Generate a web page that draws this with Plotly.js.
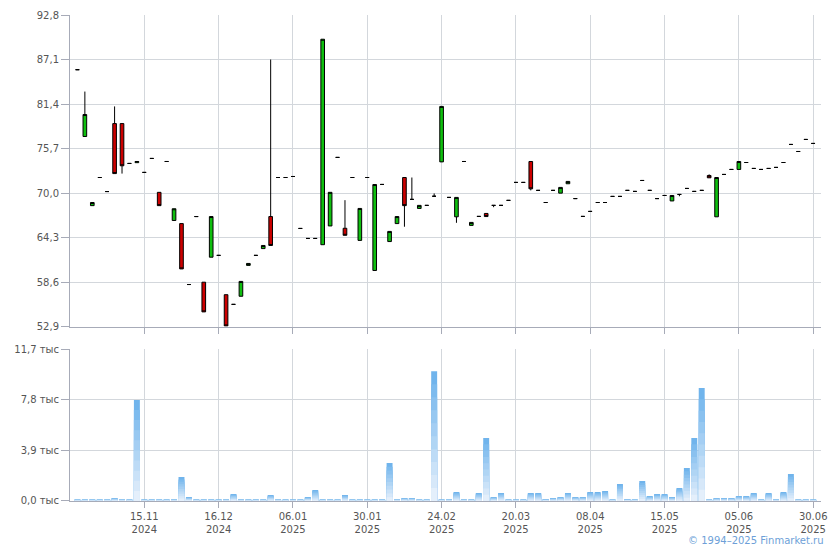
<!DOCTYPE html>
<html>
<head>
<meta charset="utf-8">
<script src="https://cdn.plot.ly/plotly-3.0.1.min.js"></script>
<style>
html,body{margin:0;padding:0;background:#ffffff;}
#chart{width:840px;height:550px;}
</style>
</head>
<body>
<div id="chart"></div>
<script>
// ---- Data ----
const openP = [85.8, 77.25, 68.4, 72.0, 70.2, 78.9, 78.9, 73.8, 73.9, 72.65,
  74.44, 70.1, 74.05, 66.5, 66.1, 58.3, 67.0, 58.6, 61.8, 62.03,
  57.0, 55.76, 56.8, 60.75, 62.03, 62.9, 67.0, 72.0, 72.0, 72.13,
  65.48, 64.2, 64.2, 63.4, 65.8, 74.57, 65.5, 72.0, 63.95, 72.0,
  60.1, 71.11, 63.8, 66.1, 72.0, 69.2, 68.04, 68.43, 69.6, 74.0,
  69.45, 66.97, 74.05, 65.87, 67.02, 67.4, 68.43, 68.43, 69.07, 71.37,
  71.37, 74.05, 70.35, 68.8, 70.35, 70.0, 71.2, 69.3, 67.02, 67.66,
  68.8, 68.8, 69.58, 69.58, 70.35, 70.22, 71.62, 70.35, 69.3, 69.7,
  69.0, 69.83, 70.6, 70.22, 70.35, 72.26, 66.97, 72.39, 73.03, 73.03,
  73.92, 73.16, 73.03, 73.16, 73.29, 73.92, 76.23, 75.33, 76.87, 76.36];
const highP = [85.8, 83.0, 68.8, 72.0, 70.2, 81.1, 78.9, 73.8, 74.05, 72.65,
  74.44, 70.1, 74.05, 68.0, 66.1, 58.3, 67.0, 58.6, 67.0, 62.03,
  57.0, 55.76, 58.7, 61.0, 62.03, 63.3, 87.1, 72.0, 72.0, 72.13,
  65.48, 64.2, 64.2, 89.7, 70.1, 74.57, 69.1, 72.0, 68.04, 72.0,
  71.1, 71.11, 65.1, 67.0, 72.0, 72.0, 68.43, 68.43, 69.96, 81.1,
  69.45, 69.45, 74.05, 66.25, 67.02, 67.4, 68.43, 68.43, 69.07, 71.37,
  71.37, 74.05, 70.35, 68.8, 70.35, 70.73, 71.5, 69.3, 67.02, 67.66,
  68.8, 68.8, 69.58, 69.58, 70.35, 70.22, 71.62, 70.35, 69.3, 69.7,
  69.7, 69.83, 70.6, 70.22, 70.35, 72.4, 72.0, 72.39, 73.03, 74.05,
  73.92, 73.16, 73.03, 73.16, 73.29, 73.92, 76.23, 75.33, 76.87, 76.36];
const lowP = [85.8, 77.25, 68.4, 72.0, 70.2, 72.5, 72.5, 73.8, 73.9, 72.65,
  74.44, 68.4, 74.05, 66.5, 60.3, 58.3, 67.0, 54.8, 61.8, 62.03,
  53.0, 55.76, 56.8, 60.75, 62.03, 62.9, 63.3, 72.0, 72.0, 72.13,
  65.48, 64.2, 64.2, 63.4, 65.8, 74.57, 64.6, 72.0, 63.95, 72.0,
  60.1, 71.11, 63.8, 66.1, 65.7, 69.2, 68.04, 68.43, 69.6, 74.0,
  69.45, 66.2, 74.05, 65.87, 67.02, 67.0, 68.2, 68.43, 69.07, 71.37,
  71.37, 70.35, 70.35, 68.8, 70.35, 70.0, 71.2, 69.3, 67.02, 67.66,
  68.8, 68.8, 69.58, 69.58, 70.35, 70.22, 71.62, 70.35, 69.3, 69.7,
  69.0, 69.6, 70.6, 70.22, 70.35, 71.96, 66.97, 72.39, 73.03, 73.03,
  73.92, 73.16, 73.03, 73.16, 73.29, 73.92, 76.23, 75.33, 76.87, 76.36];
const closeP = [85.8, 80.06, 68.8, 72.0, 70.2, 72.5, 73.5, 73.8, 74.05, 72.65,
  74.44, 68.4, 74.05, 68.0, 60.3, 58.3, 67.0, 54.8, 67.0, 62.03,
  53.0, 55.76, 58.7, 61.0, 62.03, 63.3, 63.3, 72.0, 72.0, 72.13,
  65.48, 64.2, 64.2, 89.7, 70.1, 74.57, 64.6, 72.0, 68.04, 72.0,
  71.1, 71.11, 65.1, 67.0, 68.4, 69.2, 68.43, 68.43, 69.6, 81.1,
  69.45, 69.45, 74.05, 66.25, 67.02, 67.0, 68.43, 68.43, 69.07, 71.37,
  71.37, 70.55, 70.35, 68.8, 70.35, 70.73, 71.5, 69.3, 67.02, 67.66,
  68.8, 68.8, 69.58, 69.58, 70.35, 70.22, 71.62, 70.35, 69.3, 69.7,
  69.7, 69.83, 70.6, 70.22, 70.35, 71.96, 72.0, 72.39, 73.03, 74.05,
  73.92, 73.16, 73.03, 73.16, 73.29, 73.92, 76.23, 75.33, 76.87, 76.36];
// volume, thousands
const volumeK = [0.12, 0.12, 0.12, 0.12, 0.12, 0.23, 0.12, 0.12, 7.8, 0.12,
  0.12, 0.12, 0.12, 0.12, 1.85, 0.3, 0.12, 0.12, 0.12, 0.12,
  0.12, 0.54, 0.12, 0.12, 0.12, 0.12, 0.46, 0.12, 0.12, 0.12,
  0.12, 0.3, 0.85, 0.12, 0.12, 0.12, 0.46, 0.12, 0.12, 0.12,
  0.12, 0.12, 2.93, 0.12, 0.23, 0.23, 0.12, 0.12, 10.0, 0.12,
  0.12, 0.69, 0.12, 0.12, 0.62, 4.86, 0.31, 0.62, 0.12, 0.12,
  0.12, 0.62, 0.62, 0.15, 0.23, 0.31, 0.62, 0.31, 0.31, 0.69,
  0.69, 0.77, 0.12, 1.31, 0.15, 0.12, 1.54, 0.39, 0.54, 0.54,
  0.31, 1.0, 2.54, 4.86, 8.71, 0.12, 0.23, 0.23, 0.23, 0.39,
  0.39, 0.62, 0.12, 0.62, 0.12, 0.69, 2.08, 0.12, 0.12, 0.12];

const xTickIdx = [9, 19, 29, 39, 49, 59, 69, 79, 89, 99];
const xTickText = ['15.11<br>2024', '16.12<br>2024', '06.01<br>2025', '30.01<br>2025', '24.02<br>2025',
  '20.03<br>2025', '08.04<br>2025', '15.05<br>2025', '05.06<br>2025', '30.06<br>2025'];
const priceTicks = [52.9, 58.6, 64.3, 70.0, 75.7, 81.4, 87.1, 92.8];
const priceTickText = ['52,9', '58,6', '64,3', '70,0', '75,7', '81,4', '87,1', '92,8'];
const volTicks = [0, 3.9, 7.8, 11.7];
const volTickText = ['0,0 тыс', '3,9 тыс', '7,8 тыс', '11,7 тыс'];

// ---- Chart ----
const barIndex = openP.map((_, i) => i);

const traces = [];
traces.push({
  type: 'candlestick',
  x: barIndex, open: openP, high: highP, low: lowP, close: closeP,
  xaxis: 'x', yaxis: 'y',
  increasing: {fillcolor: '#0fbf0f', line: {color: '#000000', width: 1}},
  decreasing: {fillcolor: '#cc0000', line: {color: '#000000', width: 1}},
  whiskerwidth: 0,
  hoverinfo: 'skip',
  showlegend: false
});

// vertical gradient on volume bars (dark top -> light bottom)
const steps = 10;
const topC = [112, 180, 236], botC = [228, 239, 251];
for (let k = 0; k < steps; k++) {
  const frac = 1 - k / steps;
  const t = k / (steps - 1);
  const c = topC.map((v, j) => Math.round(v + (botC[j] - v) * t));
  traces.push({
    type: 'bar', x: barIndex, y: volumeK.map(v => v * frac),
    xaxis: 'x2', yaxis: 'y2',
    marker: {color: 'rgb(' + c.join(',') + ')', line: {width: 0}},
    hoverinfo: 'skip', showlegend: false
  });
}

const axisCol = '#a7abb8', gridCol = '#d3d7dc';
const tickFont = {family: 'DejaVu Sans, Verdana, sans-serif', size: 10, color: '#555555'};

const layout = {
  width: 840, height: 550,
  margin: {l: 70, r: 19, t: 15, b: 49},
  paper_bgcolor: '#ffffff', plot_bgcolor: '#ffffff',
  barmode: 'overlay', bargap: 0.2,
  boxgap: 0.3, boxgroupgap: 0.3,
  showlegend: false,
  xaxis: {
    domain: [0, 1], anchor: 'y', range: [-1, 100.05],
    rangeslider: {visible: false},
    tickmode: 'array', tickvals: xTickIdx, ticktext: xTickText,
    showticklabels: false, ticks: 'outside', ticklen: 6, tickcolor: axisCol,
    showgrid: true, gridcolor: gridCol, gridwidth: 1,
    showline: true, linecolor: axisCol, linewidth: 1, zeroline: false
  },
  yaxis: {
    domain: [0.3586, 1], anchor: 'x', range: [52.9, 92.8],
    tickmode: 'array', tickvals: priceTicks, ticktext: priceTickText,
    ticks: 'outside', ticklen: 8, tickcolor: axisCol, tickfont: tickFont,
    showgrid: true, gridcolor: gridCol, gridwidth: 1,
    showline: true, linecolor: axisCol, linewidth: 1, zeroline: false
  },
  xaxis2: {
    domain: [0, 1], anchor: 'y2', range: [-1, 100.05],
    tickmode: 'array', tickvals: xTickIdx, ticktext: xTickText,
    ticks: 'outside', ticklen: 6, tickcolor: axisCol, tickfont: tickFont,
    showgrid: true, gridcolor: gridCol, gridwidth: 1,
    showline: true, linecolor: axisCol, linewidth: 1, zeroline: false
  },
  yaxis2: {
    domain: [0, 0.3121], anchor: 'x2', range: [0, 11.7],
    tickmode: 'array', tickvals: volTicks, ticktext: volTickText,
    ticks: 'outside', ticklen: 8, tickcolor: axisCol, tickfont: tickFont,
    showgrid: true, gridcolor: gridCol, gridwidth: 1,
    showline: true, linecolor: axisCol, linewidth: 1, zeroline: false
  },
  annotations: [{
    text: '© 1994–2025 Finmarket.ru', xref: 'paper', yref: 'paper',
    x: 1.0067, y: -0.082, xanchor: 'right', yanchor: 'middle', showarrow: false,
    font: {family: 'DejaVu Sans, Verdana, sans-serif', size: 10, color: '#6d9fd8'}
  }]
};

Plotly.newPlot('chart', traces, layout, {displayModeBar: false, staticPlot: true});
</script>
</body>
</html>
